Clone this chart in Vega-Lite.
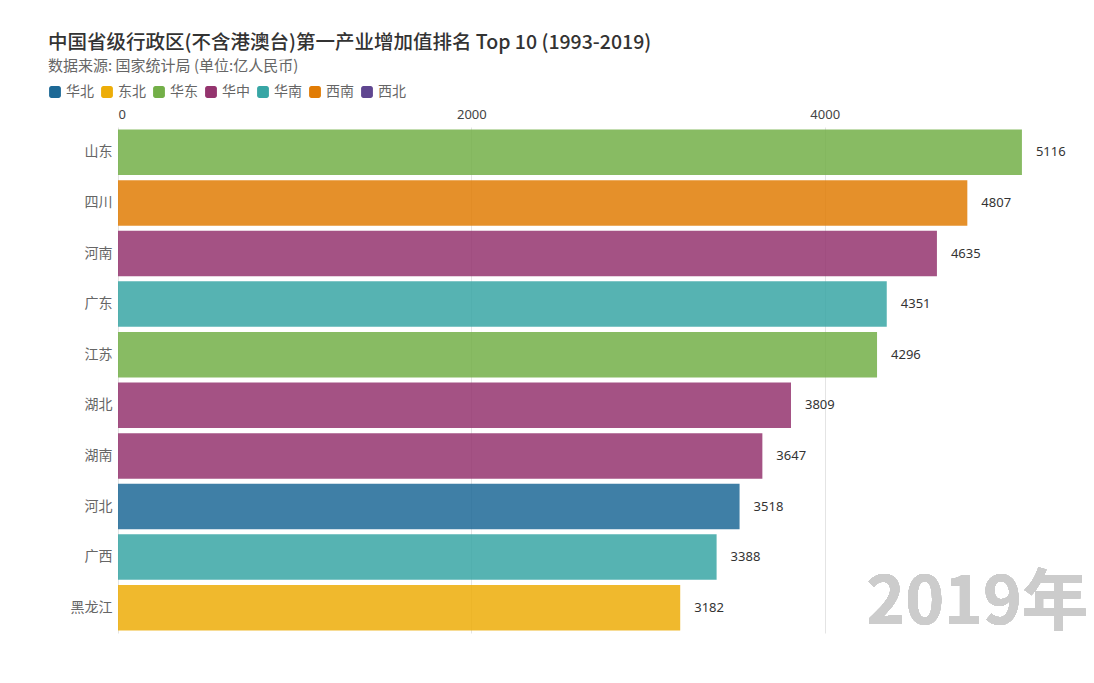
{
  "$schema": "https://vega.github.io/schema/vega-lite/v6.json",
  "width": 970,
  "height": 506,
  "autosize": {"type": "none"},
  "padding": {"left": 118, "top": 127, "right": 6, "bottom": 50},
  "background": "white",
  "title": {
    "text": "中国省级行政区(不含港澳台)第一产业增加值排名 Top 10 (1993-2019)",
    "subtitle": "数据来源: 国家统计局 (单位:亿人民币)",
    "anchor": "start",
    "frame": "group",
    "dx": -70,
    "offset": 10,
    "font": "Noto Sans CJK SC",
    "fontSize": 19.5,
    "fontWeight": 500,
    "color": "#333333",
    "subtitleFont": "Noto Sans CJK SC",
    "subtitleFontSize": 15,
    "subtitleColor": "#666666",
    "subtitlePadding": 6
  },
  "config": {
    "view": {"stroke": null},
    "font": "Noto Sans CJK SC"
  },
  "data": {
    "values": [
      {"province": "山东", "value": 5116, "region": "华东"},
      {"province": "四川", "value": 4807, "region": "西南"},
      {"province": "河南", "value": 4635, "region": "华中"},
      {"province": "广东", "value": 4351, "region": "华南"},
      {"province": "江苏", "value": 4296, "region": "华东"},
      {"province": "湖北", "value": 3809, "region": "华中"},
      {"province": "湖南", "value": 3647, "region": "华中"},
      {"province": "河北", "value": 3518, "region": "华北"},
      {"province": "广西", "value": 3388, "region": "华南"},
      {"province": "黑龙江", "value": 3182, "region": "东北"}
    ]
  },
  "encoding": {
    "y": {
      "field": "province",
      "type": "nominal",
      "sort": ["山东", "四川", "河南", "广东", "江苏", "湖北", "湖南", "河北", "广西", "黑龙江"],
      "scale": {"paddingInner": 0.1, "paddingOuter": 0.05},
      "axis": {
        "title": null,
        "ticks": false,
        "domain": false,
        "labelFontSize": 14,
        "labelColor": "#666666",
        "labelPadding": 6,
        "labelFont": "Noto Sans CJK SC"
      }
    },
    "x": {
      "field": "value",
      "type": "quantitative",
      "scale": {"domain": [0, 5490], "nice": false},
      "axis": {
        "orient": "top",
        "title": null,
        "values": [0, 2000, 4000],
        "format": "d",
        "ticks": false,
        "domain": false,
        "grid": true,
        "gridColor": "#e4e4e4",
        "labelFontSize": 13,
        "labelColor": "#444444",
        "labelPadding": 6,
        "labelFont": "Noto Sans"
      }
    }
  },
  "layer": [
    {
      "mark": {"type": "bar", "opacity": 0.85},
      "encoding": {
        "color": {
          "field": "region",
          "type": "nominal",
          "scale": {
            "domain": ["华北", "东北", "华东", "华中", "华南", "西南", "西北"],
            "range": ["#1D6996", "#EDAD08", "#73AF48", "#94346E", "#38A6A5", "#E17C05", "#5F4690"]
          },
          "legend": {
            "title": null,
            "orient": "none",
            "direction": "horizontal",
            "legendX": -70,
            "legendY": -42,
            "symbolType": "M-0.6,-1H0.6A0.4,0.4 0 0 1 1,-0.6V0.6A0.4,0.4 0 0 1 0.6,1H-0.6A0.4,0.4 0 0 1 -1,0.6V-0.6A0.4,0.4 0 0 1 -0.6,-1Z",
            "symbolSize": 140,
            "symbolOpacity": 1,
            "symbolStrokeWidth": 0,
            "labelFontSize": 14,
            "labelColor": "#666666",
            "labelFont": "Noto Sans CJK SC",
            "columnPadding": 6,
            "labelOffset": 4
          }
        }
      }
    },
    {
      "mark": {"type": "text", "align": "left", "dx": 14, "fontSize": 13, "color": "#333333", "font": "Noto Sans"},
      "encoding": {"text": {"field": "value", "type": "quantitative"}}
    },
    {
      "mark": {"type": "text", "align": "right", "baseline": "alphabetic", "dy": 16, "fontSize": 66, "fontWeight": "bold", "color": "#cccccc", "font": "Noto Sans CJK SC"},
      "encoding": {
        "x": {"datum": 5490},
        "y": {"datum": "黑龙江"},
        "text": {"value": "2019年"}
      }
    }
  ]
}
